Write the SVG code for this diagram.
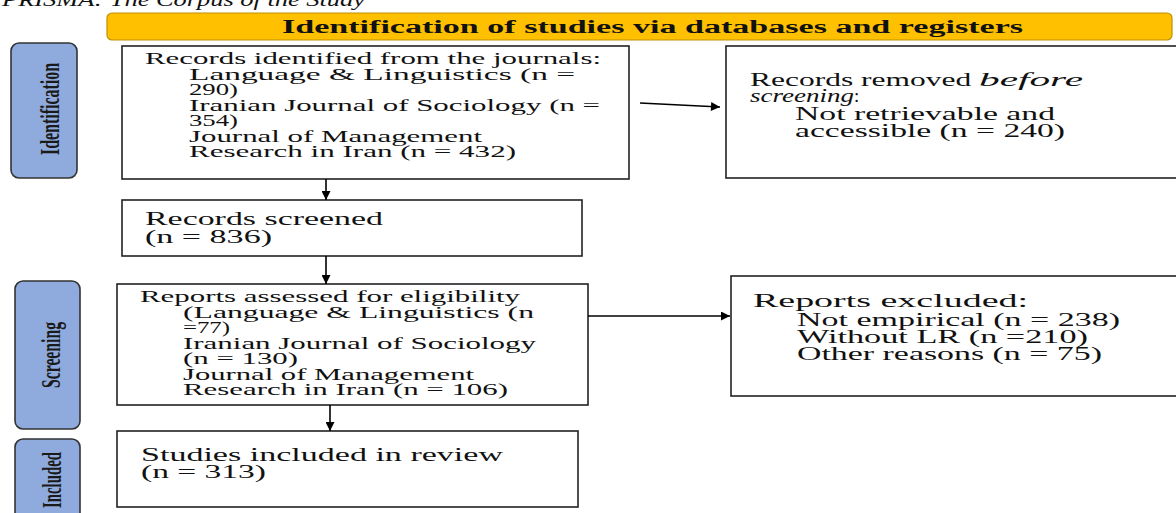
<svg xmlns="http://www.w3.org/2000/svg" width="1176" height="513" viewBox="0 0 1176 513">
<defs>
<marker id="ah" viewBox="0 0 10 10" refX="10" refY="5" markerWidth="11" markerHeight="9" markerUnits="userSpaceOnUse" orient="auto"><path d="M0,0 L10,5 L0,10 z" fill="#000"/></marker>
<style>
.box{fill:#fff;stroke:#222;stroke-width:1.6}
.side{fill:#8FAADC;stroke:#333;stroke-width:1.6}
.t{font-family:"Liberation Serif","Times New Roman",serif;fill:#111}
.s{font-size:16px}
.l{font-size:19px}
.side-t{font-family:"Liberation Serif","Times New Roman",serif;font-weight:bold;font-size:27px;fill:#1a1a1a}
.c{stroke:#000;stroke-width:1.6;fill:none;marker-end:url(#ah)}
</style>
</defs>
<text class="t" x="2" y="6" font-size="19" font-style="italic" textLength="363" lengthAdjust="spacingAndGlyphs">PRISMA: The Corpus of the Study</text>

<g id="banner">
<rect x="107" y="13" width="1065" height="27" rx="5" fill="#FFC000" stroke="#BF9000" stroke-width="1.2"/>
<text class="t" x="282" y="33" font-size="18" font-weight="bold" textLength="741" lengthAdjust="spacingAndGlyphs">Identification of studies via databases and registers</text>
</g>

<g id="side-identification">
<rect class="side" x="11" y="43" width="66" height="135" rx="8"/>
<text class="side-t" transform="translate(59,109) rotate(-90)" text-anchor="middle" textLength="92" lengthAdjust="spacingAndGlyphs">Identification</text>
</g>
<g id="side-screening">
<rect class="side" x="15" y="281" width="65" height="148" rx="8"/>
<text class="side-t" transform="translate(60,355) rotate(-90)" text-anchor="middle" textLength="66" lengthAdjust="spacingAndGlyphs">Screening</text>
</g>
<g id="side-included">
<rect class="side" x="15" y="439" width="65" height="90" rx="8"/>
<text class="side-t" transform="translate(61,480) rotate(-90)" text-anchor="middle" textLength="56" lengthAdjust="spacingAndGlyphs">Included</text>
</g>

<g id="records-identified">
<rect class="box" x="122" y="46" width="507" height="133"/>
<text class="t s" x="145" y="64" textLength="456" lengthAdjust="spacingAndGlyphs">Records identified from the journals:</text>
<text class="t s" x="189" y="80" textLength="386" lengthAdjust="spacingAndGlyphs">Language &amp; Linguistics (n =</text>
<text class="t s" x="189" y="95" textLength="49" lengthAdjust="spacingAndGlyphs">290)</text>
<text class="t s" x="189" y="111" textLength="411" lengthAdjust="spacingAndGlyphs">Iranian Journal of Sociology (n =</text>
<text class="t s" x="189" y="126" textLength="49" lengthAdjust="spacingAndGlyphs">354)</text>
<text class="t s" x="189" y="142" textLength="293" lengthAdjust="spacingAndGlyphs">Journal of Management</text>
<text class="t s" x="189" y="157" textLength="327" lengthAdjust="spacingAndGlyphs">Research in Iran (n = 432)</text>
</g>

<g id="records-removed">
<rect class="box" x="726" y="46" width="470" height="132"/>
<text class="t l" x="750" y="86"><tspan textLength="229" lengthAdjust="spacingAndGlyphs">Records removed </tspan><tspan font-style="italic" textLength="104" lengthAdjust="spacingAndGlyphs">before</tspan></text>
<text class="t l" x="750" y="102"><tspan font-style="italic" textLength="104" lengthAdjust="spacingAndGlyphs">screening</tspan><tspan>:</tspan></text>
<text class="t l" x="795" y="120" textLength="260" lengthAdjust="spacingAndGlyphs">Not retrievable and</text>
<text class="t l" x="795" y="137" textLength="270" lengthAdjust="spacingAndGlyphs">accessible (n = 240)</text>
</g>

<g id="records-screened">
<rect class="box" x="122" y="200" width="460" height="56"/>
<text class="t l" x="145" y="225" textLength="238" lengthAdjust="spacingAndGlyphs">Records screened</text>
<text class="t l" x="145" y="243" textLength="127" lengthAdjust="spacingAndGlyphs">(n = 836)</text>
</g>

<g id="reports-assessed">
<rect class="box" x="117" y="284" width="471" height="121"/>
<text class="t s" x="140" y="302" textLength="380" lengthAdjust="spacingAndGlyphs">Reports assessed for eligibility</text>
<text class="t s" x="183" y="318" textLength="351" lengthAdjust="spacingAndGlyphs">(Language &amp; Linguistics (n</text>
<text class="t s" x="183" y="333" textLength="47" lengthAdjust="spacingAndGlyphs">=77)</text>
<text class="t s" x="183" y="349" textLength="353" lengthAdjust="spacingAndGlyphs">Iranian Journal of Sociology</text>
<text class="t s" x="183" y="364" textLength="115" lengthAdjust="spacingAndGlyphs">(n = 130)</text>
<text class="t s" x="183" y="380" textLength="291" lengthAdjust="spacingAndGlyphs">Journal of Management</text>
<text class="t s" x="183" y="395" textLength="325" lengthAdjust="spacingAndGlyphs">Research in Iran (n = 106)</text>
</g>

<g id="reports-excluded">
<rect class="box" x="731" y="276" width="465" height="120"/>
<text class="t l" x="753" y="307" textLength="275" lengthAdjust="spacingAndGlyphs">Reports excluded:</text>
<text class="t l" x="797" y="326" textLength="323" lengthAdjust="spacingAndGlyphs">Not empirical (n = 238)</text>
<text class="t l" x="797" y="343" textLength="291" lengthAdjust="spacingAndGlyphs">Without LR (n =210)</text>
<text class="t l" x="797" y="360" textLength="305" lengthAdjust="spacingAndGlyphs">Other reasons (n = 75)</text>
</g>

<g id="studies-included">
<rect class="box" x="117" y="431" width="461" height="76"/>
<text class="t l" x="141" y="461" textLength="362" lengthAdjust="spacingAndGlyphs">Studies included in review</text>
<text class="t l" x="141" y="478" textLength="125" lengthAdjust="spacingAndGlyphs">(n = 313)</text>
</g>

<g id="connectors">
<line class="c" x1="640" y1="103" x2="720" y2="107"/>
<line class="c" x1="326" y1="179" x2="326" y2="200"/>
<line class="c" x1="326" y1="256" x2="326" y2="284"/>
<line class="c" x1="588" y1="316" x2="730" y2="316"/>
<line class="c" x1="330" y1="405" x2="330" y2="431"/>
</g>
</svg>
